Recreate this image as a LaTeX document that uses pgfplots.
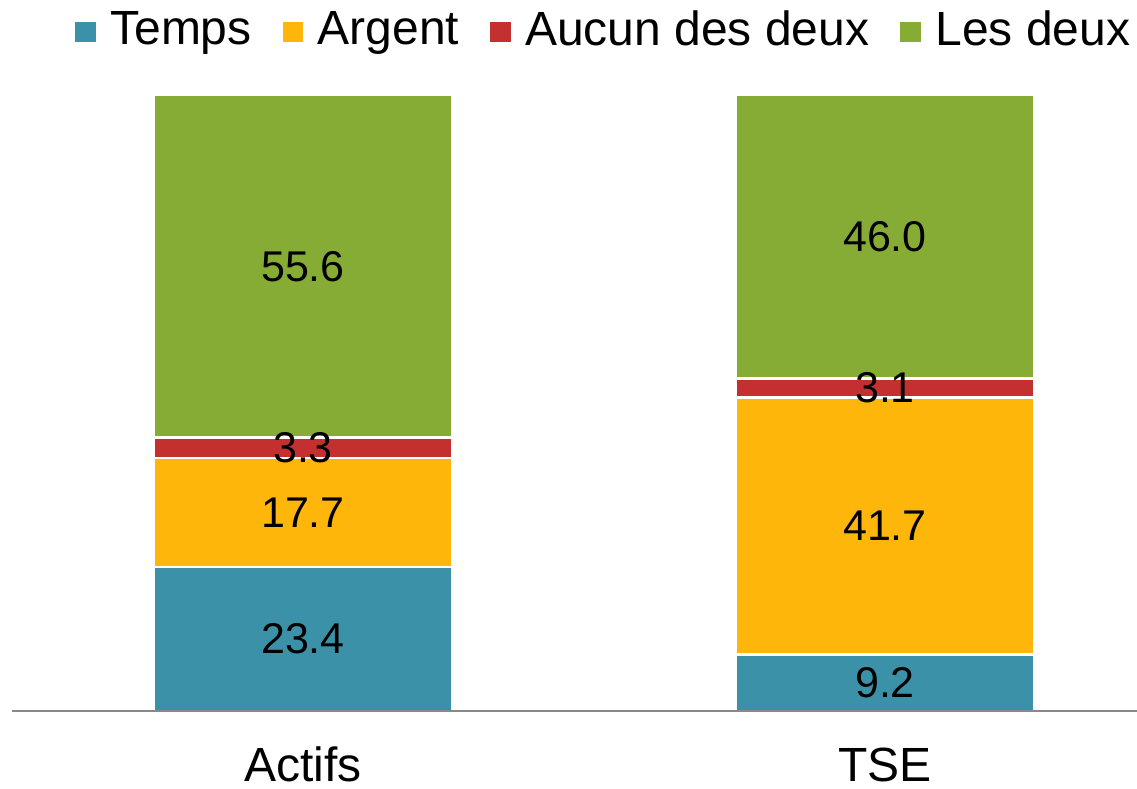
\documentclass[border=0pt]{standalone}
\usepackage{fontspec}
\setmainfont{Liberation Sans}
\usepackage{pgfplots}
\usepackage{pgfplotstable}
\pgfplotsset{compat=1.18}

\definecolor{temps}{HTML}{3A91A8}
\definecolor{argent}{HTML}{FFB60B}
\definecolor{aucun}{HTML}{C42F2F}
\definecolor{deux}{HTML}{86AC35}
\definecolor{axisgray}{HTML}{898989}

% shares in percent, bottom to top
\pgfplotstableread{
x temps argent aucun deux
0 23.4  17.7   3.3   55.6
1 9.2   41.7   3.1   46.0
}\parts

\pgfplotsset{
  frame/.style={
    scale only axis, width=562.5pt, height=308pt,
    xmin=-0.5, xmax=1.433, ymin=0, ymax=100,
    ybar stacked, bar width=149pt,
  },
  seg/.style={fill=#1, draw=white, line width=1.2pt},
}

\begin{document}
\begin{tikzpicture}
\begin{axis}[frame, name=main,
  axis on top,
  axis x line*=bottom, axis y line=none,
  x axis line style={draw=axisgray, line width=1pt},
  xtick={0,1}, xticklabels={Actifs,TSE},
  major tick length=0pt,
  xticklabel style={font=\fontsize{24}{28}\selectfont, inner sep=0pt,
    anchor=base, yshift=-35.5pt},
  legend columns=4,
  legend cell align=left,
  legend style={draw=none, fill=none, inner sep=0pt,
    at={(0.524,1)}, anchor=south, yshift=22.9pt,
    font=\fontsize{24}{28}\selectfont,
    nodes={inner xsep=0pt, inner ysep=0pt},
    /tikz/every odd column/.append style={column sep=6pt},
    /tikz/every even column/.append style={column sep=14.3pt}},
  legend image code/.code={\fill[#1] (0pt,-6.8pt) rectangle (11.5pt,4.7pt);},
]
\addplot[seg=temps] table[x=x,y=temps]{\parts};
\addplot[seg=argent] table[x=x,y=argent]{\parts};
\addplot[seg=aucun] table[x=x,y=aucun]{\parts};
\addplot[seg=deux] table[x=x,y=deux]{\parts};
\legend{Temps,Argent,Aucun des deux,Les deux}
\end{axis}

% labels drawn over all segments, centred in each one
\begin{axis}[frame, hide axis,
  visualization depends on={rawy \as \rawy},
  nodes near coords={\pgfmathprintnumber[fixed,fixed zerofill,precision=1,assume math mode=true]{\rawy}},
  nodes near coords align={center},
  every node near coord/.append style={font=\fontsize{21.5}{25}\selectfont, text=black},
]
\addplot[draw=none, fill=none] table[x=x,y=temps]{\parts};
\addplot[draw=none, fill=none] table[x=x,y=argent]{\parts};
\addplot[draw=none, fill=none] table[x=x,y=aucun]{\parts};
\addplot[draw=none, fill=none] table[x=x,y=deux]{\parts};
\end{axis}

\pgfresetboundingbox
\useasboundingbox ([shift={(-6pt,-39pt)}]main.south west) rectangle ([shift={(0pt,47.5pt)}]main.north east);
\end{tikzpicture}
\end{document}
